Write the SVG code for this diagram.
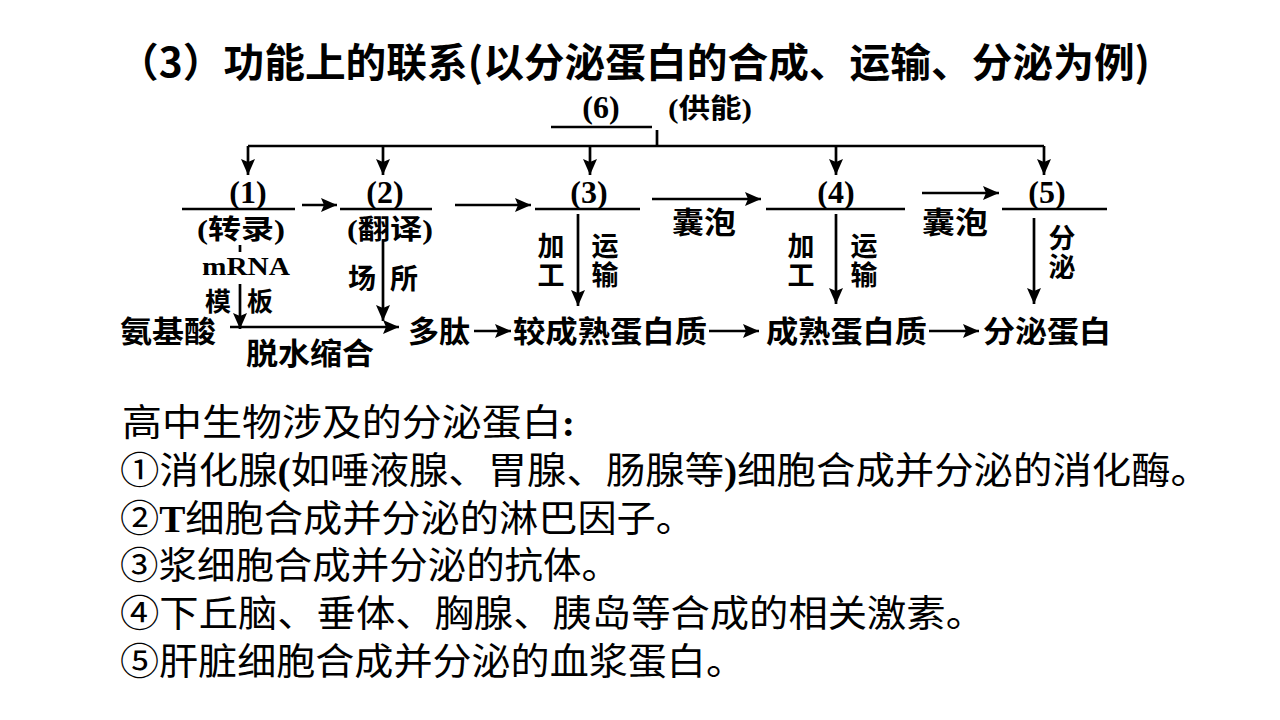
<svg xmlns="http://www.w3.org/2000/svg" width="1280" height="720" viewBox="0 0 1280 720">
  <defs>
    <style>
      .title { font-family: "Noto Sans CJK SC", "Liberation Sans", sans-serif; font-weight: bold; font-size: 40px; fill: #000; }
      .num { font-family: "Liberation Serif", serif; font-weight: bold; font-size: 32px; fill: #000; }
      .lbl { font-family: "Liberation Serif", "Noto Sans CJK SC", serif; font-weight: bold; font-size: 27px; fill: #000; }
      .rna { font-family: "Liberation Serif", serif; font-weight: bold; font-size: 26px; fill: #000; }
      .cn { font-family: "Noto Sans CJK SC", "Liberation Sans", sans-serif; font-weight: bold; font-size: 28px; fill: #000; }
      .cs { font-family: "Noto Sans CJK SC", "Liberation Sans", sans-serif; font-weight: bold; font-size: 26px; fill: #000; }
      .vt { font-family: "Noto Sans CJK SC", "Liberation Sans", sans-serif; font-weight: bold; font-size: 27px; fill: #000; writing-mode: vertical-rl; letter-spacing: 2px; }
      .row { font-family: "Noto Sans CJK SC", "Liberation Sans", sans-serif; font-weight: bold; font-size: 30px; fill: #000; }
      .body { font-family: "Liberation Serif", "Noto Sans CJK SC", serif; font-size: 37px; fill: #000; }
      .b { font-weight: bold; }
      .ln { stroke: #000; stroke-width: 2.7; fill: none; }
      .ar { stroke: #000; stroke-width: 2.7; fill: none; marker-end: url(#head); }
    </style>
    <marker id="head" markerUnits="userSpaceOnUse" markerWidth="18" markerHeight="14" refX="16" refY="7" orient="auto">
      <path d="M0,0 L16,7 L0,14 L3,7 z" fill="#000"/>
    </marker>
  </defs>
  <rect width="1280" height="720" fill="#fff"/>

  <!-- heading -->
  <text class="title" x="118" y="77" textLength="1032" lengthAdjust="spacingAndGlyphs">（3）功能上的联系(以分泌蛋白的合成、运输、分泌为例)</text>

  <!-- connectors -->
  <g id="connectors">
    <!-- energy supply bus -->
    <line class="ln" x1="551" y1="127" x2="652" y2="127"/>
    <line class="ln" x1="657" y1="130" x2="657" y2="146"/>
    <line class="ln" x1="248" y1="146" x2="1044" y2="146"/>
    <line class="ar" x1="248" y1="146" x2="248" y2="175"/>
    <line class="ar" x1="383" y1="146" x2="383" y2="175"/>
    <line class="ar" x1="590" y1="146" x2="590" y2="175"/>
    <line class="ar" x1="836" y1="146" x2="836" y2="175"/>
    <line class="ar" x1="1044" y1="146" x2="1044" y2="175"/>
    <!-- organelle chain -->
    <line class="ar" x1="302" y1="205" x2="337" y2="205"/>
    <line class="ar" x1="455" y1="205" x2="531" y2="205"/>
    <line class="ar" x1="652" y1="199" x2="761" y2="199"/>
    <line class="ar" x1="922" y1="193" x2="999" y2="193"/>
    <!-- vertical steps -->
    <line class="ln" x1="240" y1="245" x2="240" y2="252"/>
    <line class="ar" x1="240" y1="284" x2="240" y2="329"/>
    <line class="ar" x1="383" y1="240" x2="383" y2="321"/>
    <line class="ar" x1="578" y1="214" x2="578" y2="306"/>
    <line class="ar" x1="836" y1="214" x2="836" y2="304"/>
    <line class="ar" x1="1034" y1="218" x2="1034" y2="304"/>
    <!-- product chain -->
    <line class="ar" x1="230" y1="327" x2="399" y2="327"/>
    <line class="ar" x1="474" y1="331" x2="511" y2="331"/>
    <line class="ar" x1="709" y1="331" x2="759" y2="331"/>
    <line class="ar" x1="929" y1="331" x2="979" y2="331"/>
  </g>

  <!-- mitochondria -->
  <g id="node-6">
    <text class="num" x="601" y="118" text-anchor="middle">(6)</text>
    <text class="lbl" x="668" y="118" textLength="84" lengthAdjust="spacingAndGlyphs">(供能)</text>
  </g>

  <g id="node-1">
    <text class="num" x="248" y="203" text-anchor="middle">(1)</text>
    <line class="ln" x1="182" y1="209" x2="295" y2="209"/>
    <text class="lbl" x="197" y="239" textLength="88" lengthAdjust="spacingAndGlyphs">(转录)</text>
  </g>

  <g id="node-2">
    <text class="num" x="385" y="203" text-anchor="middle">(2)</text>
    <line class="ln" x1="340" y1="209" x2="432" y2="209"/>
    <text class="lbl" x="347" y="239" textLength="86" lengthAdjust="spacingAndGlyphs">(翻译)</text>
  </g>

  <g id="node-3">
    <text class="num" x="589" y="203" text-anchor="middle">(3)</text>
    <line class="ln" x1="535" y1="209" x2="640" y2="209"/>
  </g>

  <g id="node-4">
    <text class="num" x="836" y="203" text-anchor="middle">(4)</text>
    <line class="ln" x1="766" y1="209" x2="905" y2="209"/>
  </g>

  <g id="node-5">
    <text class="num" x="1047" y="203" text-anchor="middle">(5)</text>
    <line class="ln" x1="1002" y1="209" x2="1107" y2="209"/>
  </g>

  <!-- edge labels -->
  <g id="labels">
    <text class="row" x="672" y="233" textLength="64" lengthAdjust="spacingAndGlyphs">囊泡</text>
    <text class="row" x="922" y="233" textLength="66" lengthAdjust="spacingAndGlyphs">囊泡</text>
    <text class="rna" x="246" y="274.5" text-anchor="middle" textLength="88" lengthAdjust="spacingAndGlyphs">mRNA</text>
    <text class="cs" x="218" y="311" text-anchor="middle">模</text>
    <text class="cs" x="260" y="311" text-anchor="middle">板</text>
    <text class="cn" x="362" y="289" text-anchor="middle">场</text>
    <text class="cn" x="404" y="289" text-anchor="middle">所</text>
    <text class="vt" x="551" y="232">加工</text>
    <text class="vt" x="605" y="232">运输</text>
    <text class="vt" x="801" y="232">加工</text>
    <text class="vt" x="864" y="232">运输</text>
    <text class="vt" x="1062" y="224">分泌</text>
    <text class="row" x="246" y="364" textLength="128" lengthAdjust="spacingAndGlyphs">脱水缩合</text>
  </g>

  <!-- substances -->
  <g id="node-aa"><text class="row" x="120" y="342" textLength="96" lengthAdjust="spacingAndGlyphs">氨基酸</text></g>
  <g id="node-peptide"><text class="row" x="408" y="342" textLength="62" lengthAdjust="spacingAndGlyphs">多肽</text></g>
  <g id="node-immature"><text class="row" x="513" y="342" textLength="194" lengthAdjust="spacingAndGlyphs">较成熟蛋白质</text></g>
  <g id="node-mature"><text class="row" x="766" y="342" textLength="161" lengthAdjust="spacingAndGlyphs">成熟蛋白质</text></g>
  <g id="node-secreted"><text class="row" x="983" y="342" textLength="128" lengthAdjust="spacingAndGlyphs">分泌蛋白</text></g>

  <!-- examples -->
  <g id="examples">
    <text class="body" x="122" y="436" textLength="453" lengthAdjust="spacingAndGlyphs">高中生物涉及的分泌蛋白<tspan class="b">:</tspan></text>
    <text class="body" x="120" y="484" textLength="1090" lengthAdjust="spacingAndGlyphs">①消化腺<tspan class="b">(</tspan>如唾液腺、胃腺、肠腺等<tspan class="b">)</tspan>细胞合成并分泌的消化酶。</text>
    <text class="body" x="120" y="532" textLength="575" lengthAdjust="spacingAndGlyphs">②<tspan class="b">T</tspan>细胞合成并分泌的淋巴因子。</text>
    <text class="body" x="120" y="579" textLength="500" lengthAdjust="spacingAndGlyphs">③浆细胞合成并分泌的抗体。</text>
    <text class="body" x="120" y="627" textLength="865" lengthAdjust="spacingAndGlyphs">④下丘脑、垂体、胸腺、胰岛等合成的相关激素。</text>
    <text class="body" x="120" y="675" textLength="625" lengthAdjust="spacingAndGlyphs">⑤肝脏细胞合成并分泌的血浆蛋白。</text>
  </g>
</svg>
